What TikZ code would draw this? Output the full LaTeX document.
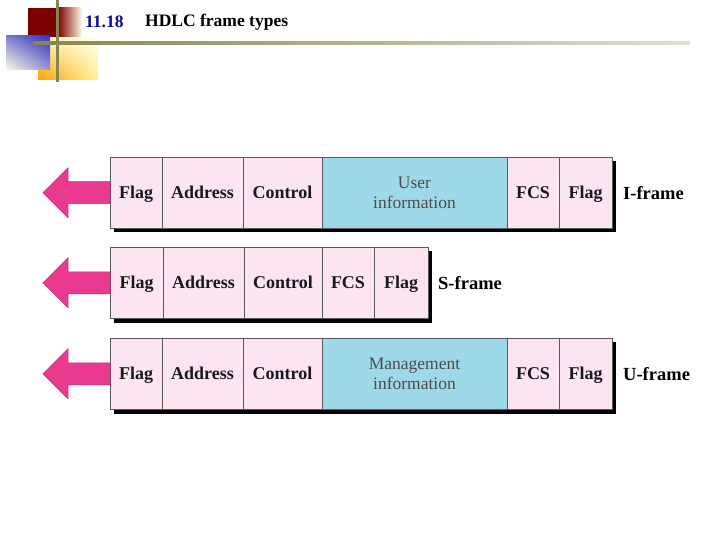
\documentclass[tikz,border=0pt]{standalone}
\usepackage{fontspec}
\setmainfont{Liberation Serif}
\usetikzlibrary{calc,shadings}
\definecolor{cellpink}{HTML}{FCE4F0}
\definecolor{infoblue}{HTML}{9DD9E8}
\definecolor{arrowpink}{HTML}{EA3A90}
\definecolor{olivebar}{HTML}{85854F}
\definecolor{darkred}{HTML}{7C0000}
\definecolor{titleblue}{HTML}{0A0A99}
\tikzset{
  cell/.style={draw=black!65, line width=0.8pt, fill=cellpink, anchor=north west,
    minimum height=71.5pt, inner sep=0pt, outer sep=0pt, text height=14pt, text depth=2pt,
    font=\fontsize{18}{20}\selectfont\bfseries, text=black!90},
  info/.style={draw=black!65, line width=0.8pt, fill=infoblue, anchor=north west,
    minimum height=71.5pt, inner sep=0pt, outer sep=0pt, text depth=0pt,
    font=\fontsize{17.5}{19.5}\selectfont, text=black!70, align=center},
  framelabel/.style={anchor=west, font=\fontsize{18.5}{20}\selectfont\bfseries, inner sep=0pt},
  sendarrow/.style={fill=arrowpink, draw=arrowpink!80!black, line width=0.5pt},
  frameshadow/.style={fill=black}
}
\begin{document}
\begin{tikzpicture}[x=1pt,y=-1pt]
\useasboundingbox (0,0) rectangle (720,540);
\fill[white] (0,0) rectangle (720,540);
% header decoration
\fill[darkred] (28,8) rectangle (58,37);
\shade[left color=darkred, right color=yellow!10] (58,8) rectangle (82,37);
\shade[upper left=orange!30!yellow!30, upper right=yellow!8, lower left=orange!75!yellow, lower right=orange!25!yellow!40] (38,38) rectangle (98,80);
\shade[upper left=blue!45!gray!70, upper right=blue!70!black!80, lower left=yellow!10, lower right=blue!40!gray!60] (6,36) rectangle (50,70);
\fill[olivebar] (55.5,0) rectangle (58.5,82);
\shade[left color=olivebar, right color=olivebar!25] (33,41.5) rectangle (690,44.5);
\node[anchor=west, inner sep=0pt, text=titleblue, font=\fontsize{17.5}{18}\selectfont\bfseries] (num) at (85,22) {11.18};
\node[anchor=west, inner sep=0pt, font=\fontsize{17.5}{18}\selectfont\bfseries] (title) at (145,22) {HDLC frame types};

% I-frame
\fill[frameshadow] (114,161) rectangle (616,232);
\node[cell, minimum width=52pt] (i1) at (110,157) {Flag};
\node[cell, minimum width=81pt] (i2) at (i1.north east) {Address};
\node[cell, minimum width=79pt] (i3) at (i2.north east) {Control};
\node[info, minimum width=185pt] (i4) at (i3.north east) {User\\information};
\node[cell, minimum width=52pt] (i5) at (i4.north east) {FCS};
\node[cell, minimum width=53pt] (i6) at (i5.north east) {Flag};
\node[framelabel] (il) at ($(i6.east)+(11,0)$) {I-frame};
\draw[sendarrow] (i1.west) ++(0,-11) -- ++(-42,0) -- ++(0,-14) -- ++(-25,25) -- ++(25,25) -- ++(0,-14) -- ++(42,0) -- cycle;

% S-frame
\fill[frameshadow] (114,251) rectangle (432,323);
\node[cell, minimum width=53pt] (s1) at (110,247) {Flag};
\node[cell, minimum width=81pt] (s2) at (s1.north east) {Address};
\node[cell, minimum width=78pt] (s3) at (s2.north east) {Control};
\node[cell, minimum width=52pt] (s4) at (s3.north east) {FCS};
\node[cell, minimum width=54pt] (s5) at (s4.north east) {Flag};
\node[framelabel] (sl) at ($(s5.east)+(10,0)$) {S-frame};
\draw[sendarrow] (s1.west) ++(0,-11) -- ++(-42,0) -- ++(0,-14) -- ++(-25,25) -- ++(25,25) -- ++(0,-14) -- ++(42,0) -- cycle;

% U-frame
\fill[frameshadow] (114,342) rectangle (616,414);
\node[cell, minimum width=52pt] (u1) at (110,338) {Flag};
\node[cell, minimum width=81pt] (u2) at (u1.north east) {Address};
\node[cell, minimum width=79pt] (u3) at (u2.north east) {Control};
\node[info, minimum width=185pt] (u4) at (u3.north east) {Management\\information};
\node[cell, minimum width=52pt] (u5) at (u4.north east) {FCS};
\node[cell, minimum width=53pt] (u6) at (u5.north east) {Flag};
\node[framelabel] (ul) at ($(u6.east)+(11,0)$) {U-frame};
\draw[sendarrow] (u1.west) ++(0,-11) -- ++(-42,0) -- ++(0,-14) -- ++(-25,25) -- ++(25,25) -- ++(0,-14) -- ++(42,0) -- cycle;
\end{tikzpicture}
\end{document}
